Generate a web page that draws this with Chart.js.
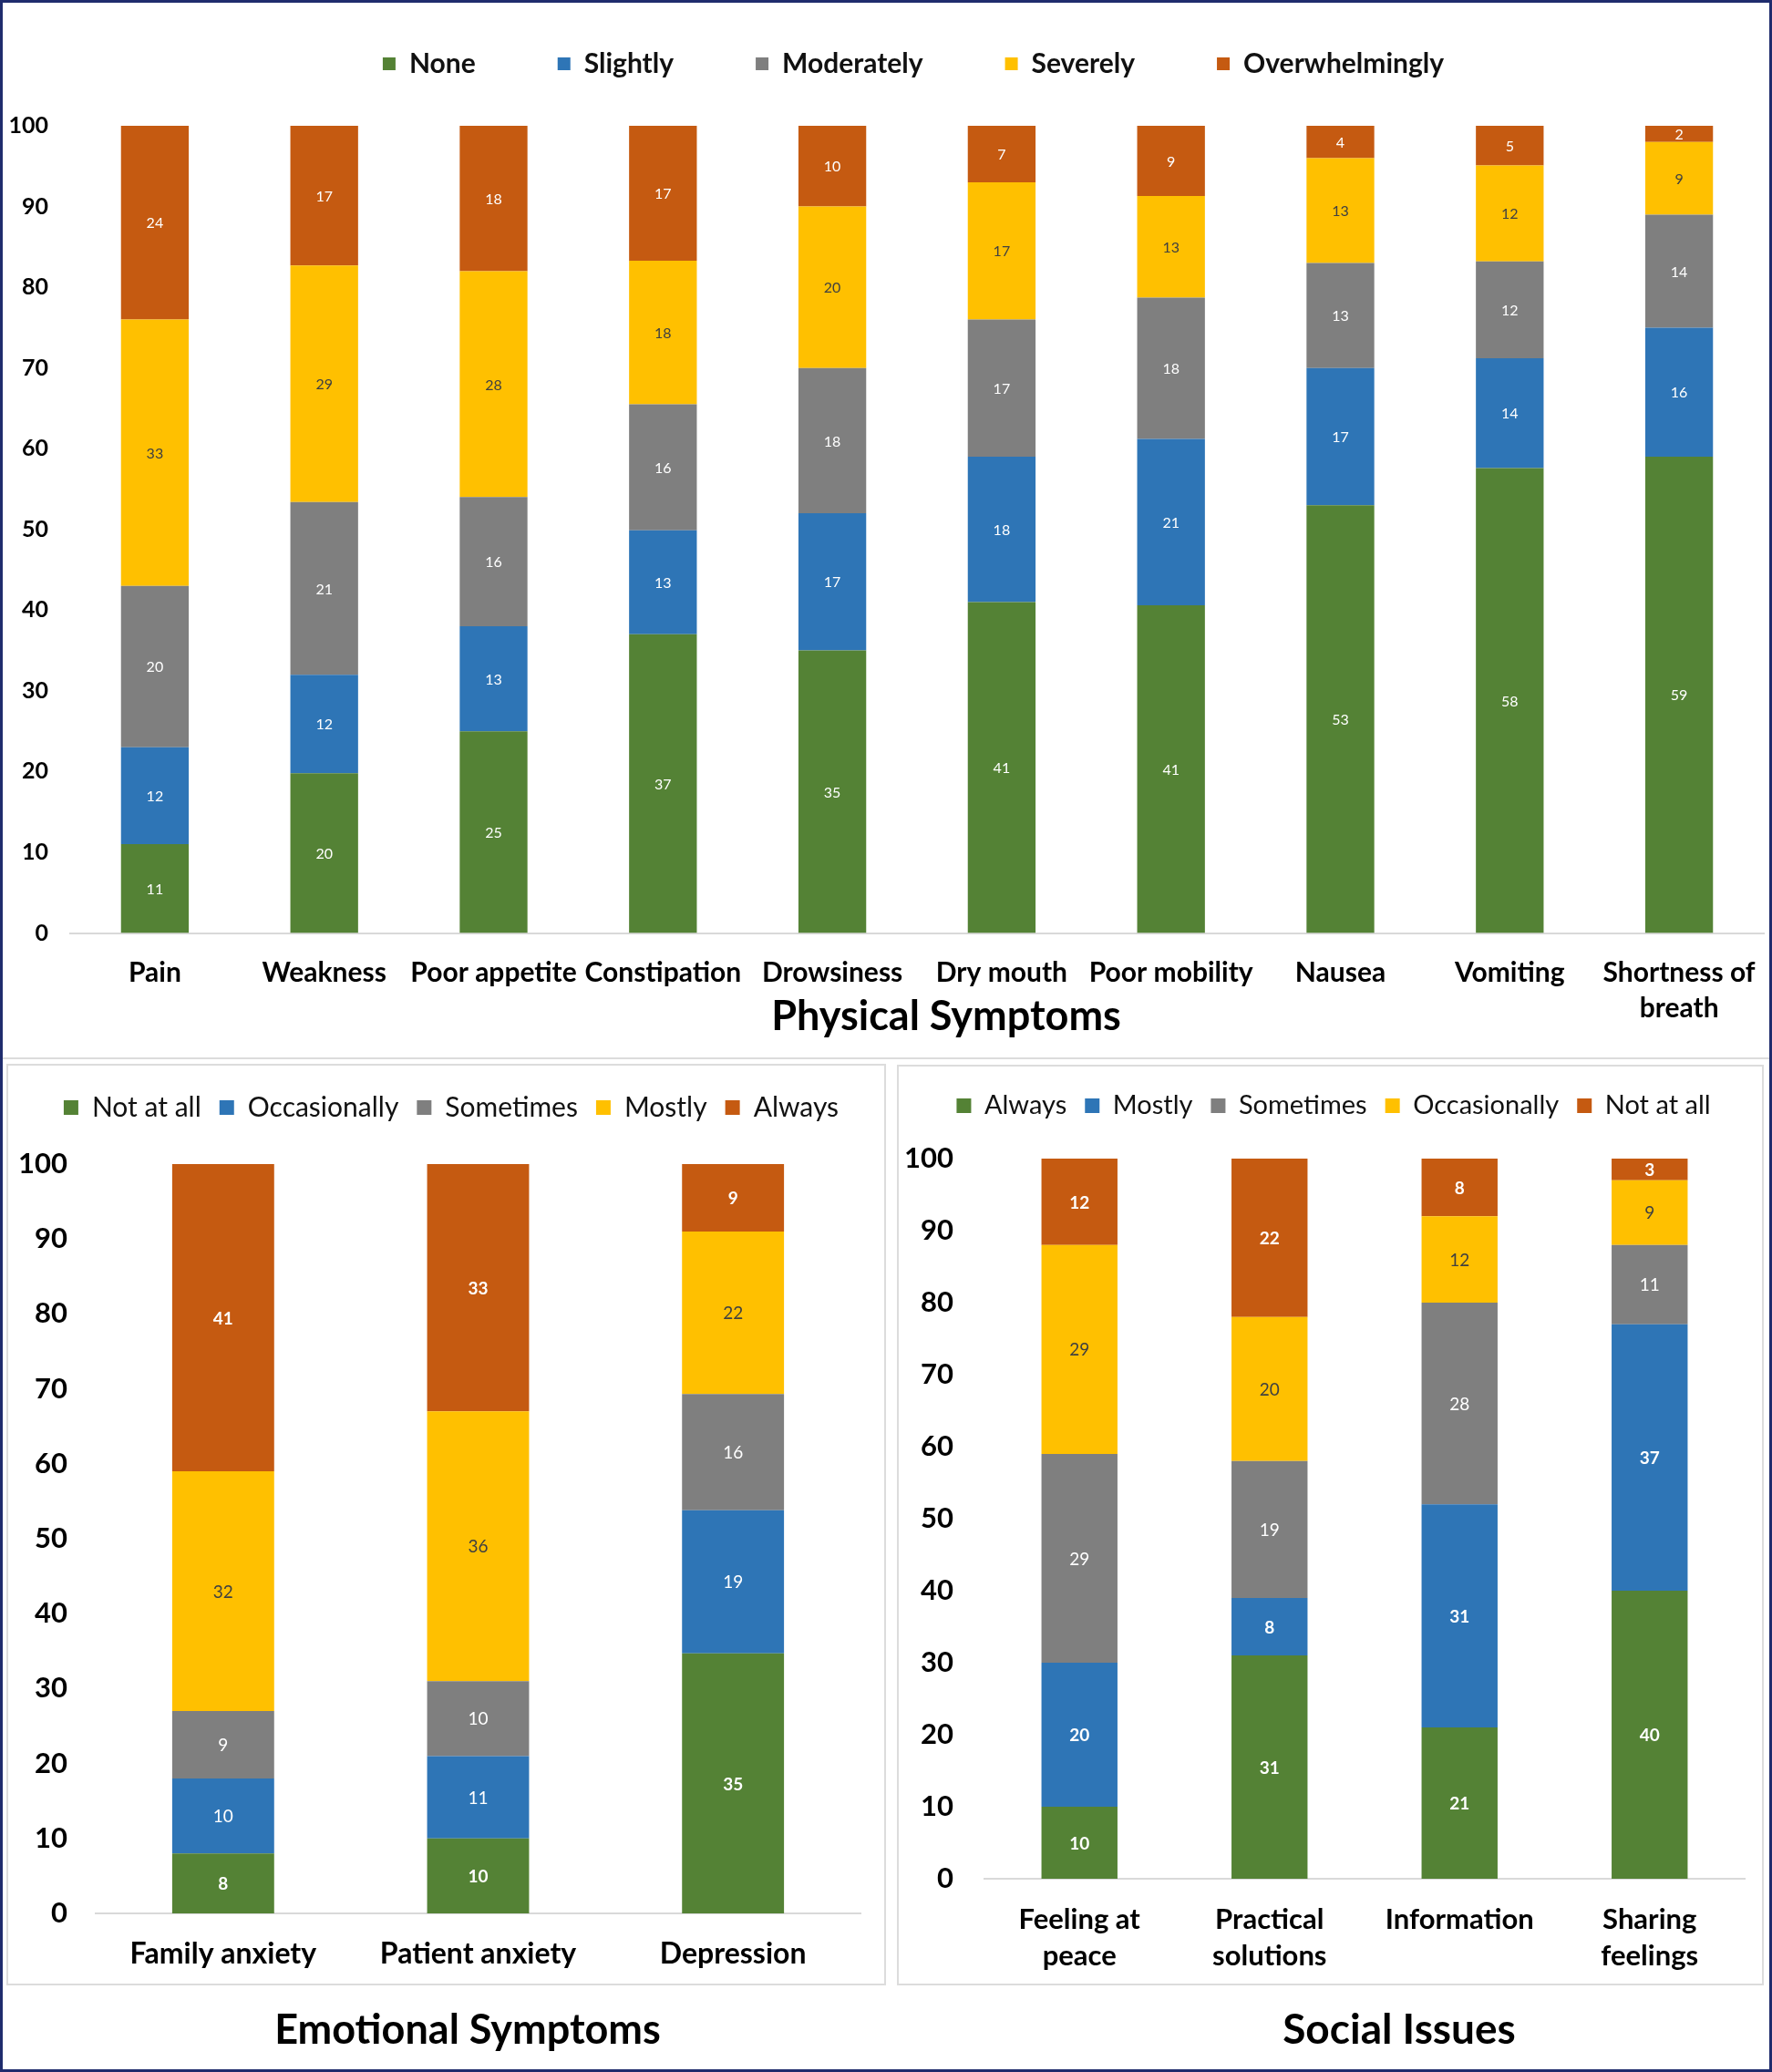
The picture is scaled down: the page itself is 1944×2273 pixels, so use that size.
<!DOCTYPE html>
<html>
<head>
<meta charset="utf-8">
<title>Symptoms and issues</title>
<script src="https://cdn.jsdelivr.net/npm/chart.js@4.4.1/dist/chart.umd.min.js"></script>
<style>
  body { margin: 0; background: #fff; }
  #page { position: relative; width: 1944px; height: 2273px; overflow: hidden; font-family: Lato, "Open Sans", sans-serif; }
  canvas { position: absolute; }
  .frame { position: absolute; left: 0; top: 0; width: 1944px; height: 2273px; box-sizing: border-box; border: 3px solid #1f2c6d; pointer-events: none; }
  .panel { position: absolute; box-sizing: border-box; border: 2px solid #dcdcdc; }
  .caption { position: absolute; width: 800px; height: 56px; line-height: 56px; text-align: center; font-weight: bold; color: #000; }
</style>
</head>
<body>
<div id="page">
  <div class="panel" style="left:3px; top:3px; width:1938px; height:1159px; border-top:none; border-left:none; border-right:none;"></div>
  <div class="panel" style="left:7px; top:1167px; width:965px; height:1011px;"></div>
  <div class="panel" style="left:984px; top:1168px; width:951px; height:1010px;"></div>
  <canvas id="physical" width="1944" height="1160" style="left:0; top:0;"></canvas>
  <canvas id="emotional" width="975" height="1113" style="left:0; top:1160px;"></canvas>
  <canvas id="social" width="969" height="1113" style="left:975px; top:1160px;"></canvas>
  <div class="caption" style="left:638px; top:1085px; font-size:45px;">Physical Symptoms</div>
  <div class="caption" style="left:113px; top:2197px; font-size:45px;">Emotional Symptoms</div>
  <div class="caption" style="left:1135px; top:2197px; font-size:46px;">Social Issues</div>
  <div class="frame"></div>
</div>
<script>
// Physical symptoms (percent of patients)
const physicalCategories = ['Pain', 'Weakness', 'Poor appetite', 'Constipation', 'Drowsiness', 'Dry mouth', 'Poor mobility', 'Nausea', 'Vomiting', ['Shortness of', 'breath']];
const physNone           = [11, 19.8, 25, 37.0, 35, 41, 40.6, 53, 57.6, 59];
const physSlightly       = [12, 12.2, 13, 12.9, 17, 18, 20.6, 17, 13.6, 16];
const physModerately     = [20, 21.4, 16, 15.6, 18, 17, 17.5, 13, 12.0, 14];
const physSeverely       = [33, 29.3, 28, 17.8, 20, 17, 12.6, 13, 11.9, 9];
const physOverwhelmingly = [24, 17.3, 18, 16.7, 10, 7, 8.7, 4, 4.9, 2];

// Emotional symptoms
const emotionalCategories = ['Family anxiety', 'Patient anxiety', 'Depression'];
const emoNotAtAll      = [8, 10, 34.7];
const emoOccasionally  = [10, 11, 19.1];
const emoSometimes     = [9, 10, 15.5];
const emoMostly        = [32, 36, 21.7];
const emoAlways        = [41, 33, 9];

// Social issues
const socialCategories = [['Feeling at', 'peace'], ['Practical', 'solutions'], 'Information', ['Sharing', 'feelings']];
const socAlways        = [10, 31, 21, 40];
const socMostly        = [20, 8, 31, 37];
const socSometimes     = [29, 19, 28, 11];
const socOccasionally  = [29, 20, 12, 9];
const socNotAtAll      = [12, 22, 8, 3];

const yTicks = [0, 10, 20, 30, 40, 50, 60, 70, 80, 90, 100];

const GREEN = '#548235', BLUE = '#2e75b6', GREY = '#7f7f7f', YELLOW = '#ffc000', ORANGE = '#c55a11';

Chart.defaults.font.family = 'Lato, "Open Sans", sans-serif';
Chart.defaults.color = '#000';

// extra room under the legend, and let the y labels draw past the narrow axis box
const layoutTweaks = {
    id: 'layoutTweaks',
    beforeLayout(chart, args, opts) {
        const legend = chart.legend;
        if (!legend || legend._gapPatched) return;
        const fit = legend.fit;
        legend.fit = function () {
            fit.call(this);
            this.height += opts.extra || 0;
        };
        legend._gapPatched = true;
    },
    afterLayout(chart) {
        chart.scales.y.left = 0;
    }
};

// value labels in the middle of each segment
const barValueLabels = {
    id: 'barValueLabels',
    afterDatasetsDraw(chart, args, opts) {
        const ctx = chart.ctx;
        ctx.save();
        ctx.textAlign = 'center';
        ctx.textBaseline = 'middle';
        chart.data.datasets.forEach((ds, i) => {
            const meta = chart.getDatasetMeta(i);
            ctx.fillStyle = ds.labelColor || '#fff';
            ctx.font = (ds.labelWeight || 'normal') + ' ' + opts.size + 'px ' + Chart.defaults.font.family;
            meta.data.forEach((bar, j) => {
                const p = bar.getCenterPoint();
                ctx.fillText(Math.round(ds.data[j]), p.x, p.y + 1);
            });
        });
        ctx.restore();
    }
};

function series(label, data, color, textColor, weight) {
    return { label: label, data: data, backgroundColor: color, borderWidth: 0, labelColor: textColor, labelWeight: weight };
}

function makeOptions(cfg) {
    return {
        responsive: false,
        animation: false,
        devicePixelRatio: 1,
        layout: { padding: cfg.padding },
        datasets: { bar: { categoryPercentage: 0.8, barPercentage: 0.5 } },
        scales: {
            x: {
                stacked: true,
                grid: { display: false },
                border: { display: true, color: '#d9d9d9', width: 2 },
                ticks: { autoSkip: false, maxRotation: 0, minRotation: 0, padding: cfg.xPad, color: '#000',
                         font: { size: cfg.xSize, weight: 'bold', lineHeight: cfg.xLine } },
                afterFit: s => { s.height = cfg.xHeight; }
            },
            y: {
                stacked: true,
                min: 0,
                max: 100,
                afterBuildTicks: s => { s.ticks = yTicks.map(v => ({ value: v })); },
                grid: { display: false },
                border: { display: false },
                ticks: { padding: cfg.yPad, color: '#000', font: { size: cfg.ySize, weight: 'bold' } },
                afterFit: s => { s.width = cfg.yWidth; }
            }
        },
        plugins: {
            legend: {
                position: 'top',
                labels: { boxWidth: cfg.box, boxHeight: cfg.box, padding: cfg.legendPad, color: '#111',
                          font: { size: cfg.legendSize, weight: cfg.legendWeight } }
            },
            tooltip: { enabled: false },
            layoutTweaks: { extra: cfg.legendExtra },
            barValueLabels: { size: cfg.valueSize }
        }
    };
}

new Chart(document.getElementById('physical'), {
    type: 'bar',
    data: {
        labels: physicalCategories,
        datasets: [
            series('None', physNone, GREEN, '#fff', 'normal'),
            series('Slightly', physSlightly, BLUE, '#fff', 'normal'),
            series('Moderately', physModerately, GREY, '#fff', 'normal'),
            series('Severely', physSeverely, YELLOW, '#404040', 'normal'),
            series('Overwhelmingly', physOverwhelmingly, ORANGE, '#fff', 'normal')
        ]
    },
    options: makeOptions({
        padding: { top: -35, left: 69, right: 9, bottom: 0 },
        xSize: 30, xLine: 1.3, xPad: 16, xHeight: 136.5,
        ySize: 25, yPad: 16, yWidth: 8,
        box: 14, legendPad: 90, legendSize: 30, legendWeight: 'bold', legendExtra: 43,
        valueSize: 16
    }),
    plugins: [layoutTweaks, barValueLabels]
});

new Chart(document.getElementById('emotional'), {
    type: 'bar',
    data: {
        labels: emotionalCategories,
        datasets: [
            series('Not at all', emoNotAtAll, GREEN, '#fff', 'bold'),
            series('Occasionally', emoOccasionally, BLUE, '#fff', 'normal'),
            series('Sometimes', emoSometimes, GREY, '#fff', 'normal'),
            series('Mostly', emoMostly, YELLOW, '#404040', 'normal'),
            series('Always', emoAlways, ORANGE, '#fff', 'bold')
        ]
    },
    options: makeOptions({
        padding: { top: 20, left: 46, right: 31, bottom: 0 },
        xSize: 32, xLine: 1.3, xPad: 16, xHeight: 174,
        ySize: 31, yPad: 23, yWidth: 59,
        box: 16, legendPad: 20, legendSize: 30, legendWeight: 'normal', legendExtra: 37,
        valueSize: 19
    }),
    plugins: [layoutTweaks, barValueLabels]
});

new Chart(document.getElementById('social'), {
    type: 'bar',
    data: {
        labels: socialCategories,
        datasets: [
            series('Always', socAlways, GREEN, '#fff', 'bold'),
            series('Mostly', socMostly, BLUE, '#fff', 'bold'),
            series('Sometimes', socSometimes, GREY, '#fff', 'normal'),
            series('Occasionally', socOccasionally, YELLOW, '#404040', 'normal'),
            series('Not at all', socNotAtAll, ORANGE, '#fff', 'bold')
        ]
    },
    options: makeOptions({
        padding: { top: 18.5, left: 37, right: 30, bottom: 0 },
        xSize: 31, xLine: 1.3, xPad: 17, xHeight: 212,
        ySize: 31, yPad: 26, yWidth: 68,
        box: 16, legendPad: 20, legendSize: 29, legendWeight: 'normal', legendExtra: 33.5,
        valueSize: 19
    }),
    plugins: [layoutTweaks, barValueLabels]
});
</script>
</body>
</html>
